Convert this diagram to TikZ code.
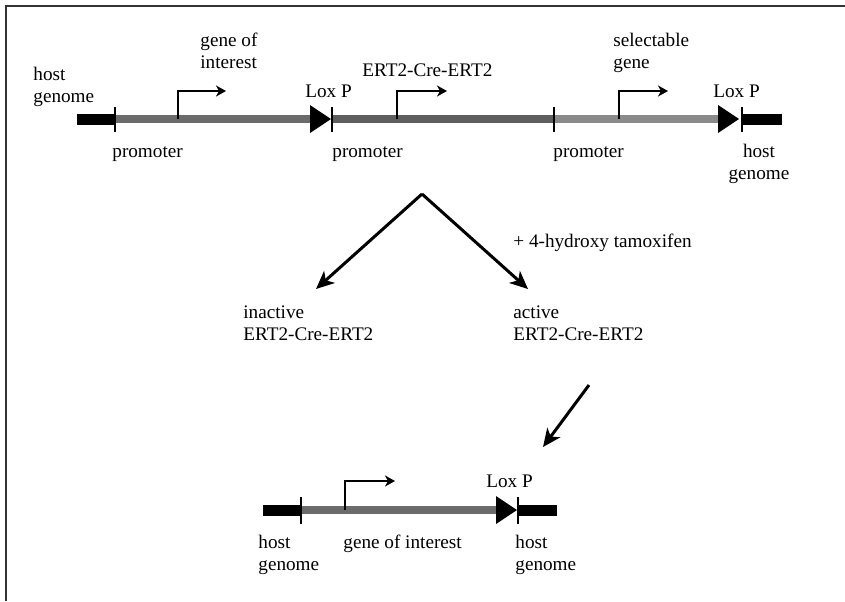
\documentclass[tikz,border=0pt]{standalone}
\usepackage{fontspec}
\setmainfont{Liberation Serif}
\usetikzlibrary{arrows.meta}

\definecolor{goi}{gray}{0.42}
\definecolor{cre}{gray}{0.37}
\definecolor{sel}{gray}{0.54}

\tikzset{
  hostbar/.style={line width=5.5pt,black},
  genebar/.style={line width=4.2pt},
  cutline/.style={line width=0.7pt},
  promarrow/.style={line width=0.85pt,-{Stealth[length=5pt,width=5.5pt,inset=1.5pt]}},
  bigarrow/.style={line width=1.5pt,-{Stealth[length=9pt,width=8pt,inset=2.5pt]}},
  txt/.style={inner sep=0pt,font=\fontsize{9.6}{11}\selectfont,align=left,anchor=base west}
}

\begin{document}
\begin{tikzpicture}[x=0.5pt,y=-0.5pt]

        \useasboundingbox (0,0) rectangle (845,601);
        \draw[line width=0.8pt,black!80] (6,601) -- (6,6) -- (845,6);

        % top construct
        \coordinate (h1) at (77,119);
        \coordinate (p1) at (115,119);
        \coordinate (l1) at (310,119);
        \coordinate (p2) at (332,119);
        \coordinate (p3) at (554,119);
        \coordinate (l2) at (718,119);
        \coordinate (h2) at (742,119);
        \coordinate (h3) at (782,119);

        \draw[hostbar] (h1) -- (p1);
        \draw[genebar,goi] (p1) -- (l1);
        \draw[genebar,cre] (p2) -- (p3);
        \draw[genebar,sel] (p3) -- (l2);
        \draw[hostbar] (h2) -- (h3);

        \foreach \l in {l1,l2}
          \fill (\l) ++(0,-14) -- ++(21,14) -- ++(-21,14) -- cycle;
        \foreach \p in {p1,p2,p3,h2}
          \draw[cutline] (\p) ++(0,-12) -- ++(0,25);

        \coordinate (s1) at (178,119);
        \coordinate (e1) at (226,91);
        \coordinate (s2) at (397,119);
        \coordinate (e2) at (447,91);
        \coordinate (s3) at (619,119);
        \coordinate (e3) at (668,91);
        \draw[promarrow] (s1) |- (e1);
        \draw[promarrow] (s2) |- (e2);
        \draw[promarrow] (s3) |- (e3);

        \begin{scope}[every node/.style={txt}]
          \node (hg1)  at (33,102)  {host\\genome};
          \node (goi1) at (200,68)  {gene of\\interest};
          \node (lox1) at (305,97)  {Lox P};
          \node (ert)  at (362,76)  {ERT2-Cre-ERT2};
          \node (sg)   at (613,68)  {selectable\\gene};
          \node (lox2) at (713,97)  {Lox P};
          \node (pr1)  at (112,157) {promoter};
          \node (pr2)  at (332,157) {promoter};
          \node (pr3)  at (553,157) {promoter};
          \node[align=center,anchor=base] (hg2) at (759,179) {host\\genome};
        \end{scope}

        % recombination
        \coordinate (top) at (422,194);
        \coordinate (inl) at (316,289);
        \coordinate (inr) at (528,289);
        \coordinate (ds)  at (589,385);
        \coordinate (de)  at (543,447);
        \draw[bigarrow] (top) -- (inl);
        \draw[bigarrow] (top) -- (inr);
        \draw[bigarrow] (ds) -- (de);

        \begin{scope}[every node/.style={txt}]
          \node (tam) at (513,247) {+ 4-hydroxy tamoxifen};
          \node (ina) at (243,340) {inactive\\ERT2-Cre-ERT2};
          \node (act) at (513,340) {active\\ERT2-Cre-ERT2};
        \end{scope}

        % excised construct
        \coordinate (h4) at (263,510);
        \coordinate (p4) at (301,510);
        \coordinate (l3) at (496,510);
        \coordinate (h5) at (518,510);
        \coordinate (h6) at (557,510);

        \draw[hostbar] (h4) -- (p4);
        \draw[genebar,goi] (p4) -- (l3);
        \draw[hostbar] (h5) -- (h6);
        \fill (l3) ++(0,-14) -- ++(21,14) -- ++(-21,14) -- cycle;
        \foreach \p in {p4,h5}
          \draw[cutline] (\p) ++(0,-13) -- ++(0,27);

        \coordinate (s4) at (345,510);
        \coordinate (e4) at (395,481);
        \draw[promarrow] (s4) |- (e4);

        \begin{scope}[every node/.style={txt}]
          \node (lox3) at (486,487) {Lox P};
          \node (hg3)  at (258,570) {host\\genome};
          \node (goi2) at (343,548) {gene of interest};
          \node (hg4)  at (515,570) {host\\genome};
        \end{scope}

      \end{tikzpicture}
\end{document}
